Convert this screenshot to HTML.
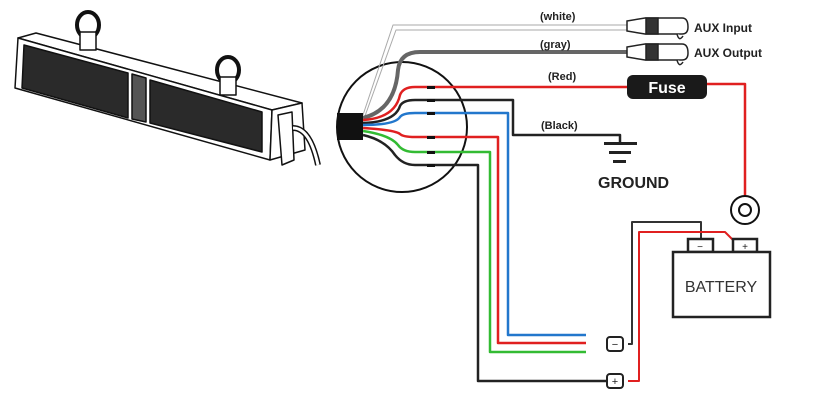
<!DOCTYPE html>
<html><head><style>body{margin:0;background:#fff}svg{display:block}text{font-family:"Liberation Sans",sans-serif}</style></head><body>
<svg width="818" height="404" viewBox="0 0 818 404" xmlns="http://www.w3.org/2000/svg">
<!-- speaker bar -->
<g stroke="#111" stroke-width="1.5" stroke-linejoin="round">
<polygon points="18,38 36,33 302,103 272,110" fill="#fff"/>
<polygon points="18,38 272,110 270,160 15,88" fill="#fff"/>
<polygon points="272,110 302,103 305,150 270,160" fill="#fff"/>
<polygon points="24,45 128,73 128,118 22,88" fill="#2a2a2a"/>
<polygon points="150,80 262,112 262,152 150,123" fill="#2a2a2a"/>
<polygon points="132,74 146,78 146,122 132,119" fill="#555"/>
<ellipse cx="88" cy="25" rx="11" ry="13" fill="none" stroke-width="4"/>
<ellipse cx="228" cy="70" rx="11" ry="13" fill="none" stroke-width="4"/>
<rect x="80" y="32" width="16" height="18" fill="#fff"/>
<rect x="220" y="77" width="16" height="18" fill="#fff"/>
<polygon points="278,115 292,112 294,160 282,165" fill="#fff"/>
<path d="M293,128 Q310,128 318,165" fill="none" stroke-width="6"/>
<path d="M293,128 Q310,128 318,165" fill="none" stroke="#fff" stroke-width="3"/>
</g>
<!-- circle -->
<circle cx="402" cy="127" r="65" fill="none" stroke="#111" stroke-width="2"/>
<g fill="none" stroke-linejoin="round">
<path d="M363,115 L393,25 L627,25" stroke="#aaa" stroke-width="1"/>
<path d="M365,116 L396,30 L627,30" stroke="#aaa" stroke-width="1"/>
<path d="M363,118 Q395,110 398,70 Q400,52 420,52 L627,52" stroke="#666" stroke-width="4"/>
<path d="M363,120 Q395,118 400,95 Q403,87 415,87 L627,87" stroke="#e02020" stroke-width="2.5"/>
<path d="M707,84 L745,84 L745,196" stroke="#e02020" stroke-width="2.5"/>
<path d="M363,123 Q395,122 400,106 Q403,100 415,100 L513,100 L513,135 L620,135 L620,143" stroke="#222" stroke-width="2.5"/>
<path d="M363,125 Q395,125 400,117 Q403,113 415,113 L508,113 L508,335 L586,335" stroke="#2277cc" stroke-width="2.5"/>
<path d="M363,128 Q395,130 400,134 Q403,137 415,137 L498,137 L498,343 L586,343" stroke="#e02020" stroke-width="2.5"/>
<path d="M363,131 Q390,135 398,145 Q403,152 415,152 L490,152 L490,352 L586,352" stroke="#33bb33" stroke-width="2.5"/>
<path d="M363,135 Q385,140 395,155 Q403,165 415,165 L478,165 L478,381 L608,381" stroke="#222" stroke-width="2.5"/>
<path d="M628,344 L632,344 L632,222 L701,222 L701,240" stroke="#333" stroke-width="2"/>
<path d="M628,381 L639,381 L639,232 L725,232 L733,240" stroke="#e02020" stroke-width="2"/>
</g>
<rect x="337" y="113" width="26" height="27" fill="#111"/>
<g fill="#111"><rect x="427" y="86" width="8" height="3"/><rect x="427" y="99" width="8" height="3"/><rect x="427" y="112" width="8" height="3"/><rect x="427" y="136" width="8" height="3"/><rect x="427" y="151" width="8" height="3"/><rect x="427" y="164" width="8" height="3"/></g>
<!-- aux plugs -->
<g stroke="#222" stroke-width="1.5" fill="#fff">
<path d="M627,21 L645,18 L682,18 Q688,18 688,27 Q688,34 682,34 L645,34 L627,31 Z"/>
<rect x="646" y="18" width="12" height="16" fill="#333"/>
<path d="M677,34 Q679,42 683,36"/>
<path d="M627,47 L645,44 L682,44 Q688,44 688,53 Q688,60 682,60 L645,60 L627,57 Z"/>
<rect x="646" y="44" width="12" height="16" fill="#333"/>
<path d="M677,60 Q679,68 683,62"/>
</g>
<text x="694" y="32" font-size="12" font-weight="bold" fill="#222">AUX Input</text>
<text x="694" y="57" font-size="12" font-weight="bold" fill="#222">AUX Output</text>
<g font-size="11" font-weight="bold" fill="#222">
<text x="540" y="20">(white)</text><text x="540" y="48">(gray)</text><text x="548" y="80">(Red)</text><text x="541" y="129">(Black)</text>
</g>
<rect x="627" y="75" width="80" height="24" rx="6" fill="#1a1a1a"/>
<text x="667" y="93" font-size="16" font-weight="bold" fill="#fff" text-anchor="middle">Fuse</text>
<!-- ground -->
<g fill="#222"><rect x="604" y="142" width="33" height="3"/><rect x="609" y="151" width="22" height="3"/><rect x="613" y="160" width="13" height="3"/></g>
<text x="598" y="188" font-size="16" font-weight="bold" fill="#222">GROUND</text>
<circle cx="745" cy="210" r="14" fill="#fff" stroke="#111" stroke-width="2"/>
<circle cx="745" cy="210" r="6" fill="none" stroke="#111" stroke-width="2"/>
<!-- battery -->
<g stroke="#222" stroke-width="2.5" fill="#fff">
<rect x="688" y="239" width="25" height="13"/><rect x="733" y="239" width="24" height="13"/>
<rect x="673" y="252" width="97" height="65"/>
</g>
<text x="700" y="250" font-size="10" text-anchor="middle" fill="#222">−</text>
<text x="745" y="250" font-size="10" text-anchor="middle" fill="#222">+</text>
<text x="721" y="292" font-size="16" text-anchor="middle" fill="#333">BATTERY</text>
<g stroke="#222" stroke-width="2" fill="#fff"><rect x="607" y="337" width="16" height="14" rx="3"/><rect x="607" y="374" width="16" height="14" rx="3"/></g>
<text x="615" y="348" font-size="11" text-anchor="middle" fill="#222">−</text>
<text x="615" y="385" font-size="11" text-anchor="middle" fill="#222">+</text>
</svg>
</body></html>
